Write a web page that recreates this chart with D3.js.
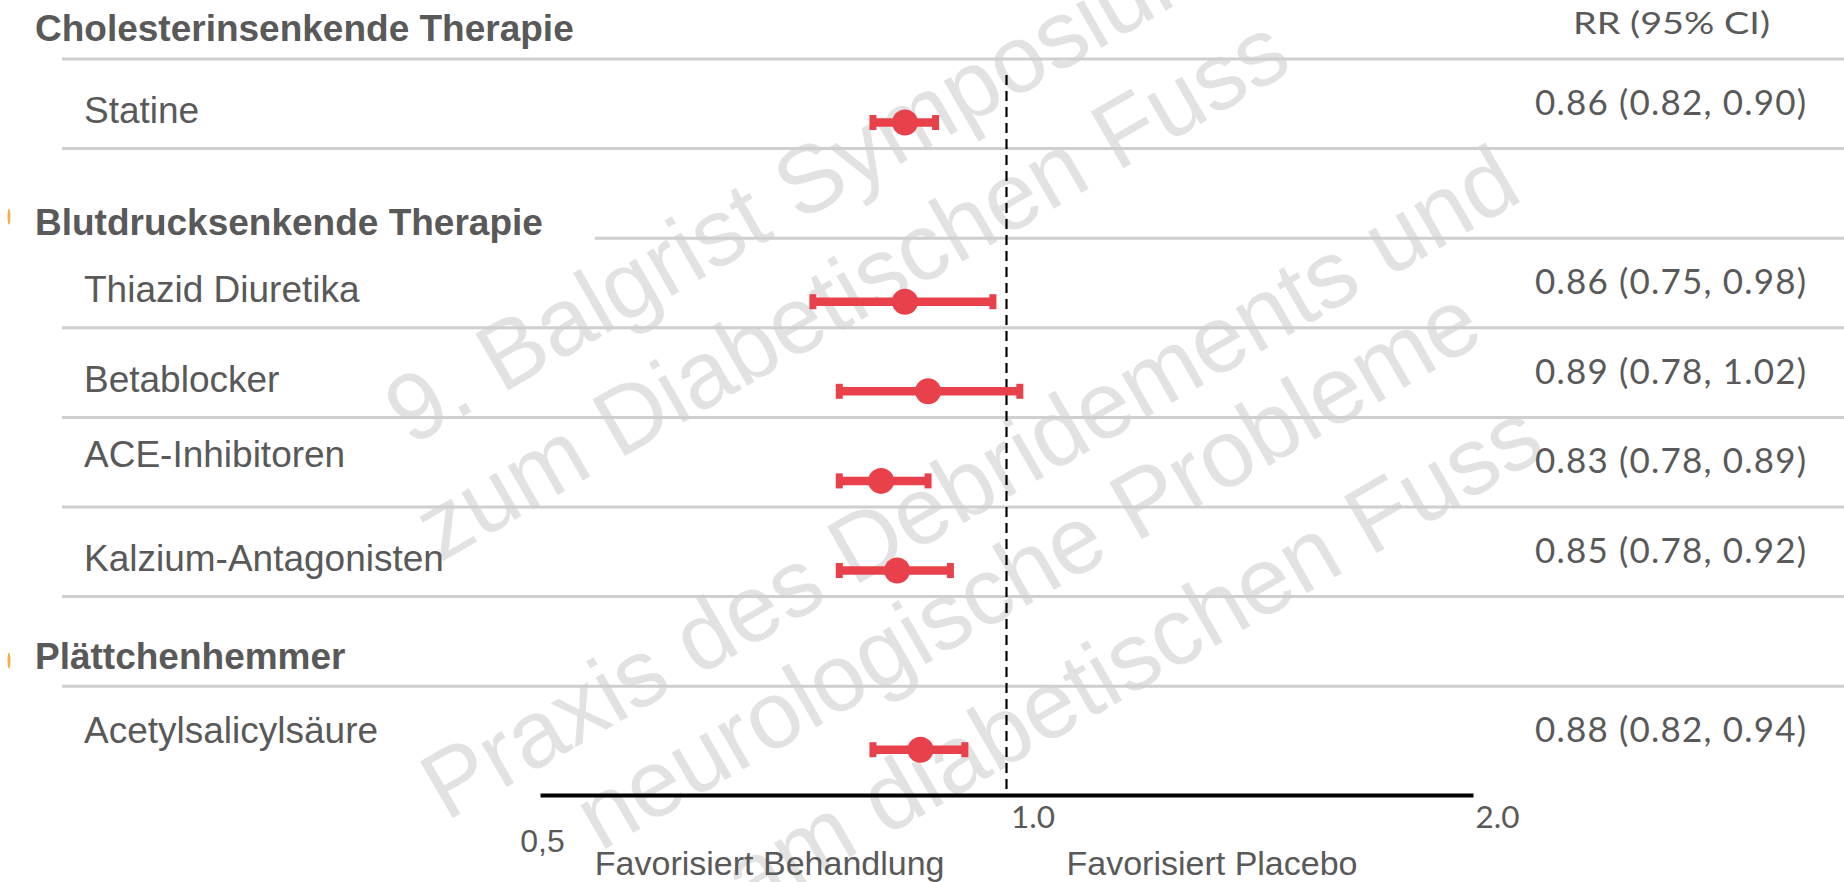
<!DOCTYPE html>
<html><head><meta charset="utf-8">
<script src="https://cdn.jsdelivr.net/npm/d3@7"></script>
<style>
html,body{margin:0;padding:0;background:#fff;}
svg{display:block;}
</style></head>
<body>
<svg id="chart" width="1844" height="882"></svg>
<script>
// ---------- data ----------
const groupTitles = ["Cholesterinsenkende Therapie", "Blutdrucksenkende Therapie", "Plättchenhemmer"];
const drugs = ["Statine", "Thiazid Diuretika", "Betablocker", "ACE-Inhibitoren", "Kalzium-Antagonisten", "Acetylsalicylsäure"];
const drugGroup = [0, 1, 1, 1, 1, 2];
const rr     = [0.86, 0.86, 0.89, 0.83, 0.85, 0.88];
const ciLow  = [0.82, 0.75, 0.78, 0.78, 0.78, 0.82];
const ciHigh = [0.90, 0.98, 1.02, 0.89, 0.92, 0.94];
const tickValues = [0.5, 1, 2];
const tickLabels = ["0,5", "1.0", "2.0"];
const columnHeader = "RR (95% CI)";
const favourLabels = ["Favorisiert Behandlung", "Favorisiert Placebo"];
const watermarkText = ["9. Balgrist Symposium", "zum Diabetischen Fuss",
  "Praxis des Debridements und", "neurologische Probleme", "am diabetischen Fuss"];

// ---------- layout ----------
const W = 1844, H = 882;
const RED = "#e8414c", GREY_TXT = "#595959";
const SANS = "'Liberation Sans', Arial, sans-serif";
const GEO = "'Century Gothic', Lato, sans-serif";
const axisY = 795;
const svg = d3.select("#chart");

const rows = [];
groupTitles.forEach((g, gi) => {
  rows.push({type: "group", label: g, key: "g" + gi});
  drugs.forEach((d, i) => { if (drugGroup[i] === gi) rows.push({type: "drug", label: d, key: "d" + i, i}); });
});

const x = d3.scaleLog().domain([0.5, 2]).range([540, 1473]);
const step = 89.6, top0 = -30.6;
const y = d3.scaleBand().domain(rows.map(r => r.key)).range([top0, top0 + rows.length * step]);
const bw = y.bandwidth();
const labelNudge = {"ACE-Inhibitoren": -14, "Blutdrucksenkende Therapie": 14, "Acetylsalicylsäure": -7};

// watermark (beneath)
const wmAnchors = [[410, 447], [440, 563], [446, 822], [600, 852], [748, 916]];
svg.append("g").selectAll("text").data(watermarkText).join("text")
  .attr("transform", (d, i) => `translate(${wmAnchors[i][0]},${wmAnchors[i][1]}) rotate(-30)`)
  .attr("font-family", SANS).attr("font-size", 95).attr("fill", "#e2e2e2")
  .text(d => d);

// row labels
const labG = svg.append("g");
const labs = labG.selectAll("text").data(rows).join("text")
  .attr("x", r => r.type === "group" ? 35 : 84)
  .attr("y", r => y(r.key) + (r.type === "group" ? 72 : 64) + (labelNudge[r.label] || 0))
  .attr("font-family", SANS).attr("font-size", 37)
  .attr("font-weight", r => r.type === "group" ? "bold" : "normal")
  .attr("fill", GREY_TXT)
  .text(r => r.label);

// separators
const sepG = svg.insert("g", "g:nth-child(2)");
rows.slice(0, -1).forEach((r, k) => {
  const ly = y(r.key) + bw;
  let x0 = 62;
  if (r.type === "group") {
    const bb = labs.filter(d => d.key === r.key).node().getBBox();
    if (bb.y + bb.height > ly - 2) x0 = bb.x + bb.width + 52;
  }
  sepG.append("line").attr("x1", x0).attr("x2", W).attr("y1", ly).attr("y2", ly)
    .attr("stroke", "#cfcfcf").attr("stroke-width", 3);
});

// reference line at 1.0
svg.append("line").attr("x1", x(1)).attr("x2", x(1)).attr("y1", 75).attr("y2", axisY)
  .attr("stroke", "#000").attr("stroke-width", 2.2).attr("stroke-dasharray", "10,6");

// axis
const axis = d3.axisBottom(x).tickValues(tickValues).tickFormat((d, i) => tickLabels[i])
  .tickSize(0).tickSizeOuter(0);
const axG = svg.append("g").attr("transform", `translate(0,${axisY})`).call(axis);
axG.select(".domain").attr("stroke", "#000").attr("stroke-width", 4);
axG.selectAll(".tick text").each(function(d, i) {
  const t = d3.select(this).attr("dy", null).attr("fill", GREY_TXT);
  if (i === 0) {
    t.attr("font-family", SANS).attr("font-size", 32).attr("text-anchor", "middle").attr("x", 2).attr("y", 57);
  } else {
    t.attr("font-family", GEO).attr("font-size", 31).attr("text-anchor", "start")
     .attr("x", i === 1 ? 4 : 2).attr("y", 33)
     .attr("textLength", 44).attr("lengthAdjust", "spacingAndGlyphs");
  }
});

// favour labels
svg.append("text").attr("x", x(1) - 62).attr("y", 875).attr("text-anchor", "end")
  .attr("font-family", SANS).attr("font-size", 34).attr("fill", GREY_TXT).text(favourLabels[0]);
svg.append("text").attr("x", x(1) + 60).attr("y", 875).attr("text-anchor", "start")
  .attr("font-family", SANS).attr("font-size", 34).attr("fill", GREY_TXT).text(favourLabels[1]);

// markers
const drugRows = rows.filter(r => r.type === "drug");
const my = r => y(r.key) + 63.5;
const mk = svg.append("g");
mk.selectAll("line").data(drugRows).join("line")
  .attr("x1", r => x(ciLow[r.i])).attr("x2", r => x(ciHigh[r.i]))
  .attr("y1", my).attr("y2", my).attr("stroke", RED).attr("stroke-width", 8.5);
mk.selectAll("rect.lo").data(drugRows).join("rect").attr("class", "lo")
  .attr("x", r => x(ciLow[r.i]) - 3.5).attr("y", r => my(r) - 7.5)
  .attr("width", 7).attr("height", 15).attr("fill", RED);
mk.selectAll("rect.hi").data(drugRows).join("rect").attr("class", "hi")
  .attr("x", r => x(ciHigh[r.i]) - 3.5).attr("y", r => my(r) - 7.5)
  .attr("width", 7).attr("height", 15).attr("fill", RED);
mk.selectAll("circle").data(drugRows).join("circle")
  .attr("cx", r => x(rr[r.i])).attr("cy", my).attr("r", 13).attr("fill", RED);

// RR column
const f2 = d3.format(".2f");
svg.append("text").attr("x", 1573).attr("y", 34)
  .attr("font-family", GEO).attr("font-size", 31).attr("fill", GREY_TXT)
  .attr("textLength", 197).attr("lengthAdjust", "spacingAndGlyphs").text(columnHeader);
svg.append("g").selectAll("text").data(drugRows).join("text")
  .attr("x", 1535).attr("y", r => y(r.key) + 56)
  .attr("font-family", GEO).attr("font-size", 35).attr("fill", GREY_TXT)
  .attr("textLength", 271).attr("lengthAdjust", "spacing")
  .text(r => `${f2(rr[r.i])} (${f2(ciLow[r.i])}, ${f2(ciHigh[r.i])})`);

// small orange bullet remnants
svg.append("g").selectAll("ellipse").data(rows.filter(r => r.type === "group").slice(1)).join("ellipse")
  .attr("cx", 9).attr("cy", r => y(r.key) + 64 + (labelNudge[r.label] || 0) * 0.3)
  .attr("rx", 1.5).attr("ry", 8).attr("fill", "#f2b04a");
</script>
</body></html>
